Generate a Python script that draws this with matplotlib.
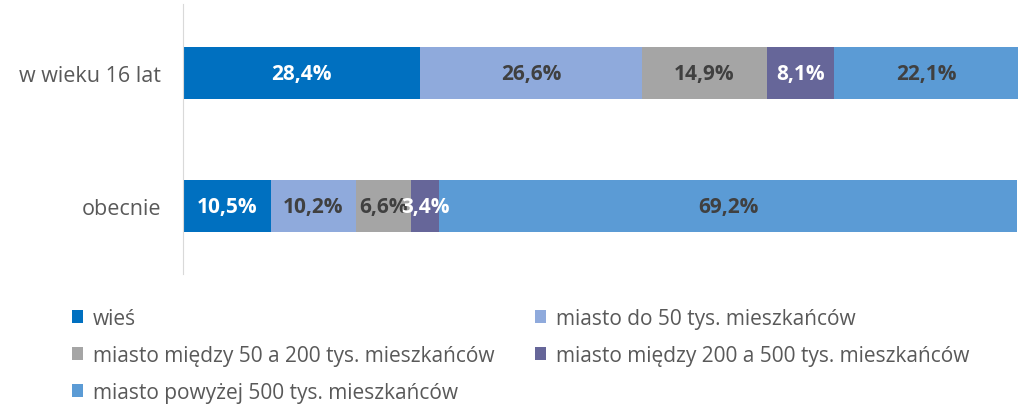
import matplotlib
matplotlib.use("Agg")
import matplotlib.pyplot as plt
import numpy as np
from matplotlib.patches import Patch

# ── data ────────────────────────────────────────────────────────────────────────
CATEGORIES = ["obecnie", "w wieku 16 lat"]
SERIES = [
    "wieś",
    "miasto do 50 tys. mieszkańców",
    "miasto między 50 a 200 tys. mieszkańców",
    "miasto między 200 a 500 tys. mieszkańców",
    "miasto powyżej 500 tys. mieszkańców",
]
WIES = [10.5, 28.4]
DO_50 = [10.2, 26.6]
OD_50_DO_200 = [6.6, 14.9]
OD_200_DO_500 = [3.4, 8.1]
POWYZEJ_500 = [69.2, 22.1]

VALUES = [WIES, DO_50, OD_50_DO_200, OD_200_DO_500, POWYZEJ_500]
COLORS = ["#0070C0", "#8FAADC", "#A5A5A5", "#666699", "#5B9BD5"]
LABEL_COLORS = ["white", "#404040", "#404040", "white", "#404040"]

plt.rcParams["font.family"] = ["Open Sans", "DejaVu Sans"]

fig = plt.figure(figsize=(10.26, 4.06), dpi=100)
ax = fig.add_axes([183 / 1026, 131 / 406, 835 / 1026, 270 / 406])

y = np.arange(len(CATEGORIES))
left = np.zeros(len(CATEGORIES))
handles = []
for name, vals, col, lcol in zip(SERIES, VALUES, COLORS, LABEL_COLORS):
    vals = np.array(vals)
    bars = ax.barh(y, vals, left=left, height=0.39, color=col, label=name)
    ax.bar_label(bars, labels=[f"{v:.1f}%".replace(".", ",") for v in vals],
                 label_type="center", color=lcol, fontsize=15,
                 fontweight="bold")
    left += vals
    handles.append(Patch(facecolor=col, edgecolor="none"))

ax.set_xlim(0, 100)
ax.set_ylim(-0.51, 1.52)
ax.set_yticks(y)
ax.set_yticklabels(CATEGORIES, fontsize=15.5, color="#595959")
ax.tick_params(axis="y", length=0, pad=16)
ax.set_xticks([])
for side in ["top", "right", "bottom"]:
    ax.spines[side].set_visible(False)
ax.spines["left"].set_color("#D9D9D9")

# legend reads row by row in the reference; matplotlib fills column by column
order = [0, 2, 4, 1, 3]
fig.legend([handles[i] for i in order], [SERIES[i] for i in order],
           loc="upper left", bbox_to_anchor=(72 / 1026, 1 - 309 / 406),
           ncol=2, frameon=False, fontsize=15, labelcolor="#595959",
           handlelength=0.55, handleheight=0.55, handletextpad=0.45,
           columnspacing=1.94, labelspacing=0.76, borderaxespad=0, borderpad=0)

fig.savefig("out.png", dpi=100)
